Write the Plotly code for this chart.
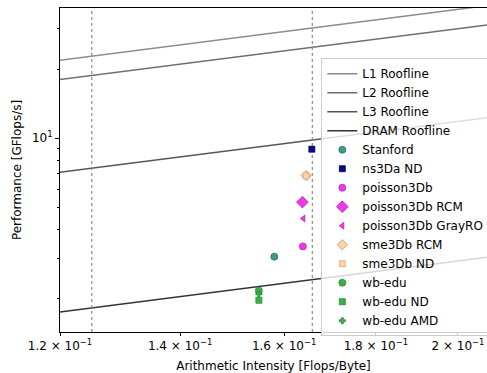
import numpy as np
import plotly.graph_objects as go

# Memory-level bandwidth ceilings (GB/s): performance = bandwidth * intensity
roof_names = ["L1 Roofline", "L2 Roofline", "L3 Roofline", "DRAM Roofline"]
roof_bw = [182.0, 150.0, 59.2, 14.6]
roof_colors = ["#8c8c8c", "#6e6e6e", "#555555", "#333333"]

# Measured SpMV kernels: arithmetic intensity (Flops/Byte) and performance (GFlops/s)
matrix_names = ["Stanford", "ns3Da ND", "poisson3Db", "poisson3Db RCM",
                "poisson3Db GrayRO", "sme3Db RCM", "sme3Db ND",
                "wb-edu", "wb-edu ND", "wb-edu AMD"]
intensity = [0.1580, 0.1658, 0.1639, 0.1638, 0.1640, 0.1646, 0.1646,
             0.1549, 0.1549, 0.1549]
performance = [3.05, 8.96, 3.38, 5.27, 4.47, 6.88, 6.85, 2.17, 1.97, 2.10]
symbols = ["circle", "square", "circle", "diamond", "triangle-left",
           "diamond", "square", "circle", "square", "cross"]
sizes = [7, 6, 7, 9, 6, 8, 6, 7, 6, 5]
fills = ["#3f9a8e", "#0a0a80", "#ee3ae6", "#ee3ae6", "#ee3ae6",
         "#fcd2ac", "#fcd2ac", "#3cb04a", "#3cb04a", "#3cb04a"]
edges = ["#2b6e66", "#000060", "#b02aa8", "#b02aa8", "#b02aa8",
         "#c8966c", "#d8a888", "#2a8a38", "#2a8a38", "#2a8a38"]

# Intensity bounds marked with dotted verticals
ai_bounds = [0.1250, 0.1659]

x_ticks = [0.12, 0.14, 0.16, 0.18, 0.20]
x_ticktext = ["1.2 × 10<sup>−1</sup>", "1.4 × 10<sup>−1</sup>",
              "1.6 × 10<sup>−1</sup>", "1.8 × 10<sup>−1</sup>",
              "2 × 10<sup>−1</sup>"]
y_ticks = [10]
y_ticktext = ["10<sup>1</sup>"]
y_minor = [2, 3, 4, 5, 6, 7, 8, 9, 20, 30]

x_range = [0.12, 0.2076]
y_range = [1.433, 36.9]

fig = go.Figure()

x_line = np.array([0.11, 0.22])
for name, bw, col in zip(roof_names, roof_bw, roof_colors):
    fig.add_trace(go.Scatter(x=x_line, y=bw * x_line, mode="lines", name=name,
                             line=dict(color=col, width=1.5)))

for xb in ai_bounds:
    fig.add_trace(go.Scatter(x=[xb, xb], y=[1.0, 50.0], mode="lines",
                             showlegend=False, hoverinfo="skip",
                             line=dict(color="#8a8a8a", width=1.2, dash="dot")))

for i, name in enumerate(matrix_names):
    fig.add_trace(go.Scatter(
        x=[intensity[i]], y=[performance[i]], mode="markers", name=name,
        marker=dict(symbol=symbols[i], size=sizes[i], color=fills[i],
                    line=dict(color=edges[i], width=0.8))))

axis_font = dict(family="DejaVu Sans", size=12, color="#000000")

fig.update_layout(
    width=487, height=373,
    margin=dict(l=60, r=0, t=8, b=41, autoexpand=False),
    paper_bgcolor="white", plot_bgcolor="white",
    font=axis_font,
    showlegend=True,
    legend=dict(x=0.612, y=0.845, xanchor="left", yanchor="top",
                bgcolor="rgba(255,255,255,0.8)", bordercolor="#cccccc",
                borderwidth=1, font=dict(family="DejaVu Sans", size=12),
                itemwidth=30, tracegroupgap=0),
)

fig.update_xaxes(
    type="log", range=[np.log10(x_range[0]), np.log10(x_range[1])],
    tickmode="array", tickvals=x_ticks, ticktext=x_ticktext,
    ticks="outside", ticklen=3, tickwidth=1, tickcolor="#000000",
    showgrid=False, zeroline=False, automargin=False,
    showline=True, linecolor="#000000", linewidth=1, mirror=True,
    title=dict(text="Arithmetic Intensity [Flops/Byte]", font=axis_font,
               standoff=11),
    tickfont=axis_font,
)

fig.update_yaxes(
    type="log", range=[np.log10(y_range[0]), np.log10(y_range[1])],
    tickmode="array", tickvals=y_ticks, ticktext=y_ticktext,
    ticks="outside", ticklen=4, tickwidth=1, tickcolor="#000000",
    minor=dict(tickmode="array", tickvals=y_minor, ticks="outside",
               ticklen=2, tickwidth=0.8, tickcolor="#000000", showgrid=False),
    showgrid=False, zeroline=False, automargin=False,
    showline=True, linecolor="#000000", linewidth=1, mirror=False,
    title=dict(text="Performance [GFlops/s]", font=axis_font, standoff=7),
    tickfont=axis_font,
)

fig.write_html("out.html")
